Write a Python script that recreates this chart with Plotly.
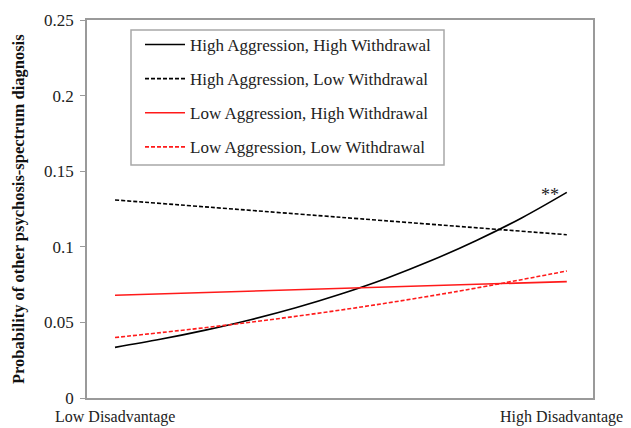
import plotly.graph_objects as go

# Data (x: 0 = Low Disadvantage, 1 = High Disadvantage)
x_hahw = [0, 0.1, 0.2, 0.3, 0.4, 0.5, 0.6, 0.7, 0.8, 0.9, 1.0]
y_hahw = [0.0335, 0.0388, 0.0449, 0.0518, 0.0597, 0.0688, 0.0791, 0.0909, 0.1042, 0.1191, 0.136]
x_halw = [0, 0.5, 1.0]
y_halw = [0.131, 0.1195, 0.108]
x_lahw = [0, 1.0]
y_lahw = [0.068, 0.077]
x_lalw = [0, 0.25, 0.5, 0.75, 1.0]
y_lalw = [0.040, 0.0483, 0.0582, 0.0701, 0.084]

x_tickvals = [0, 1]
x_ticktext = ["Low Disadvantage", "High Disadvantage"]
y_tickvals = [0, 0.05, 0.1, 0.15, 0.2, 0.25]
y_ticktext = ["0", "0.05", "0.1", "0.15", "0.2", "0.25"]

FONT = "Liberation Serif, Times New Roman, serif"
DASH = "4px,2px"
RED = "#ff1a1a"
FRAME = "#9a9a9a"

# plot area in page pixels (page has an 8px body offset)
PL, PR, PT, PB = 87, 593, 20, 398
PW, PH = PR - PL, PB - PT


def px(x):
    return (x - PL) / PW


def py(y):
    return (PB - y) / PH


fig = go.Figure()
series = [
    ("High Aggression, High Withdrawal", x_hahw, y_hahw, "black", "solid"),
    ("High Aggression, Low Withdrawal", x_halw, y_halw, "black", DASH),
    ("Low Aggression, High Withdrawal", x_lahw, y_lahw, RED, "solid"),
    ("Low Aggression, Low Withdrawal", x_lalw, y_lalw, RED, DASH),
]
for i, (name, xs, ys, col, dash) in enumerate(series):
    fig.add_trace(go.Scatter(
        x=xs, y=ys, mode="lines", name=name, legendgroup=f"g{i}",
        line=dict(color=col, width=1.6, dash=dash, shape="spline"),
    ))

# significance marker
fig.add_annotation(x=0.962, y=0.134, xref="x", yref="y", text="**", showarrow=False,
                   font=dict(family=FONT, size=18, color="#222"), xanchor="center", yanchor="middle")

# y-axis title
fig.add_annotation(x=px(18), y=0.5, xref="paper", yref="paper",
                   text="<b>Probability of other psychosis-spectrum diagnosis</b>",
                   textangle=-90, showarrow=False, xanchor="center", yanchor="middle",
                   font=dict(family=FONT, size=16.5, color="#111"))

# x category labels: low centred under the line start, high flush near the right edge
line_left_px = 115
label_x = [px(line_left_px), px(625)]
label_anchor = ["center", "right"]
for xv, xt, xa in zip(label_x, x_ticktext, label_anchor):
    fig.add_annotation(x=xv, y=py(417), xref="paper", yref="paper", text=xt,
                       showarrow=False, xanchor=xa, yanchor="middle",
                       font=dict(family=FONT, size=16, color="#222"))

# legend frame
fig.add_shape(type="rect", xref="paper", yref="paper",
              x0=px(131), x1=px(444), y0=py(165), y1=py(30),
              line=dict(color="#a8a8a8", width=1.5), fillcolor="white", layer="below")

fig.update_layout(
    width=631, height=428,
    margin=dict(l=PL - 8, r=631 - PR + 8, t=PT - 8, b=428 - PB + 8, autoexpand=False),
    paper_bgcolor="white", plot_bgcolor="white",
    font=dict(family=FONT, size=17, color="#222"),
    showlegend=True,
    legend=dict(
        x=px(140), y=py(27), xanchor="left", yanchor="top",
        borderwidth=0, bgcolor="rgba(0,0,0,0)",
        font=dict(family=FONT, size=17, color="#222"),
        tracegroupgap=9, itemwidth=40,
    ),
    xaxis=dict(
        range=[-0.062, 1.058], tickvals=x_tickvals, showticklabels=False,
        showgrid=False, zeroline=False, showline=True, mirror=True,
        linecolor=FRAME, linewidth=1.5, ticks="", automargin=False,
    ),
    yaxis=dict(
        range=[0, 0.25], tickvals=y_tickvals, ticktext=y_ticktext,
        showgrid=False, zeroline=False, showline=True, mirror=True,
        linecolor=FRAME, linewidth=1.5, ticks="outside", ticklen=5,
        tickcolor=FRAME, tickfont=dict(size=17), ticklabelstandoff=3,
        automargin=False,
    ),
)

fig.write_html("out.html")
